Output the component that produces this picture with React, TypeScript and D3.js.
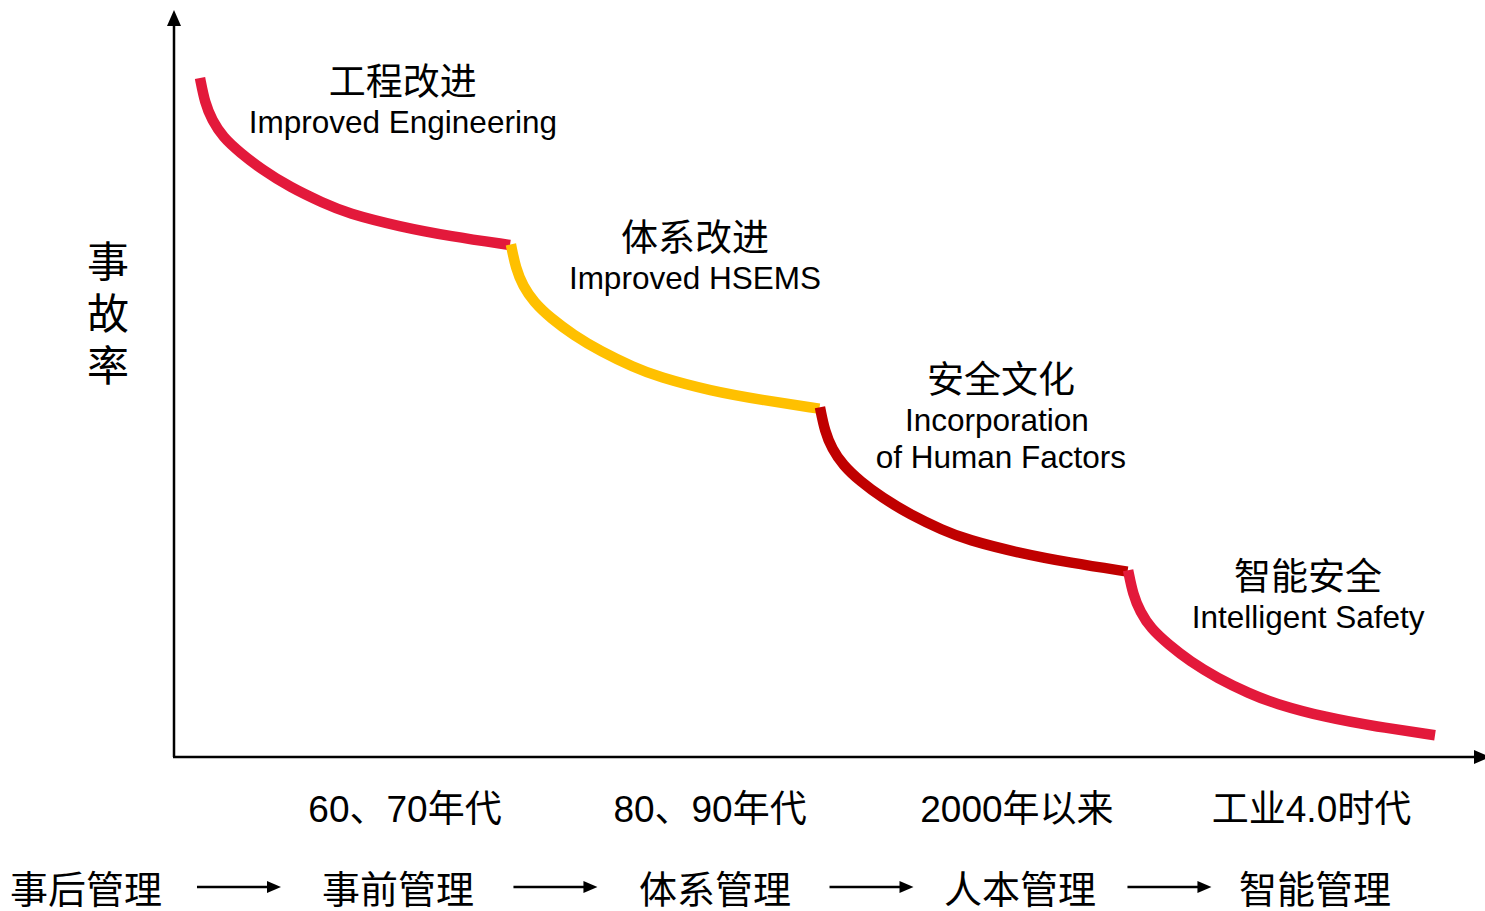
import * as d3 from "d3";

// time periods along the x axis (one unit per period)
const periods = ["60、70年代", "80、90年代", "2000年以来", "工业4.0时代"];
const stagesZh = ["工程改进", "体系改进", "安全文化", "智能安全"];
const stagesEn = [
  ["Improved Engineering"],
  ["Improved HSEMS"],
  ["Incorporation", "of Human Factors"],
  ["Intelligent Safety"],
];
const management = ["事后管理", "事前管理", "体系管理", "人本管理", "智能管理"];

// accident rate curve, one piece per period: [period position, rate]
const seg1: [number, number][] = [
  [0, 100], [0.016, 96.3], [0.039, 93.8], [0.074, 91.3], [0.13, 89.0], [0.201, 86.5],
  [0.292, 83.9], [0.398, 81.6], [0.476, 80.1], [0.648, 78.1], [0.81, 76.7], [1.004, 75.4],
];
const seg2: [number, number][] = [
  [1.007, 75.5], [1.023, 71.9], [1.046, 69.4], [1.081, 67.0], [1.137, 64.6], [1.208, 62.2],
  [1.299, 59.7], [1.405, 57.4], [1.483, 56.0], [1.655, 53.9], [1.817, 52.6], [2.006, 51.3],
];
const seg3: [number, number][] = [
  [2.008, 51.5], [2.024, 47.9], [2.047, 45.4], [2.082, 43.0], [2.138, 40.6], [2.209, 38.2],
  [2.3, 35.7], [2.406, 33.4], [2.484, 32.0], [2.656, 30.0], [2.818, 28.6], [3.004, 27.3],
];
const seg4: [number, number][] = [
  [3.006, 27.5], [3.022, 23.9], [3.045, 21.4], [3.08, 18.9], [3.136, 16.6], [3.206, 14.1],
  [3.296, 11.6], [3.401, 9.3], [3.478, 7.9], [3.648, 5.8], [3.808, 4.5], [4.0, 3.2],
];
const segments = [seg1, seg2, seg3, seg4];
const segColors = ["#E3193B", "#FFC000", "#C00000", "#E3193B"];

const W = 1485;
const H = 911;
const FONT = "'Liberation Sans', Arial, 'Noto Sans CJK SC', sans-serif";

export default function App() {
  const axisX = 174;
  const axisY = 757;

  const x = d3.scaleLinear().domain([0, 4]).range([200, 1435]);
  const y = d3.scaleLinear().domain([0, 100]).range([axisY, 78]);

  const line = d3
    .line<[number, number]>()
    .x((d) => x(d[0]))
    .y((d) => y(d[1]))
    .curve(d3.curveBasis);

  // note centres: x in periods, y = centre of the chinese line in px
  const noteX = [0.657, 1.603, 2.594, 3.589];
  const noteY = [81, 237, 379, 576];
  const periodX = [0.664, 1.652, 2.646, 3.6];
  const mgmtX = [-0.369, 0.641, 1.668, 2.656, 3.611];

  const arrowH = (x1: number, x2: number, yy: number, key: string, head = 14, hw = 6) => (
    <g key={key}>
      <line x1={x1} x2={x2 - head + 1} y1={yy} y2={yy} stroke="#000" strokeWidth={2.5} />
      <path d={`M${x2},${yy} L${x2 - head},${yy - hw} L${x2 - head},${yy + hw} Z`} fill="#000" />
    </g>
  );

  return (
    <svg
      width={W}
      height={H}
      style={{ position: "absolute", left: 0, top: 0, background: "#fff" }}
      fontFamily={FONT}
    >
      {/* axes */}
      <line x1={axisX} x2={axisX} y1={axisY} y2={24} stroke="#000" strokeWidth={2.5} />
      <path d={`M${axisX},10 L${axisX - 7},26 L${axisX + 7},26 Z`} fill="#000" />
      {arrowH(axisX - 1, 1490, axisY, "xaxis", 16, 7)}

      {/* y label */}
      {["事", "故", "率"].map((c, i) => (
        <text key={c} x={108} y={277 + i * 52} fontSize={42} textAnchor="middle">
          {c}
        </text>
      ))}

      {/* curve pieces */}
      {segments.map((s, i) => (
        <path
          key={i}
          d={line(s) ?? ""}
          fill="none"
          stroke={segColors[i]}
          strokeWidth={10.5}
          strokeLinecap="butt"
        />
      ))}

      {/* stage notes */}
      {stagesZh.map((t, i) => (
        <g key={t} textAnchor="middle">
          <text x={x(noteX[i])} y={noteY[i] + 14} fontSize={37}>
            {t}
          </text>
          {stagesEn[i].map((e, j) => (
            <text key={e} x={x(noteX[i]) - (stagesEn[i].length > 1 && j === 0 ? 4 : 0)} y={noteY[i] + 52 + j * 37} fontSize={31.5}>
              {e}
            </text>
          ))}
        </g>
      ))}

      {/* periods */}
      {periods.map((p, i) => (
        <text key={p} x={x(periodX[i])} y={822} fontSize={37} textAnchor="middle">
          {p}
        </text>
      ))}

      {/* management evolution */}
      {management.map((m, i) => (
        <text key={m} x={x(mgmtX[i])} y={903} fontSize={38} textAnchor="middle">
          {m}
        </text>
      ))}
      {management.slice(1).map((_, i) => {
        const mid = (x(mgmtX[i]) + x(mgmtX[i + 1])) / 2 + [-3, -1, 4, 2][i];
        return arrowH(mid - 42, mid + 42, 887, "a" + i);
      })}
    </svg>
  );
}
